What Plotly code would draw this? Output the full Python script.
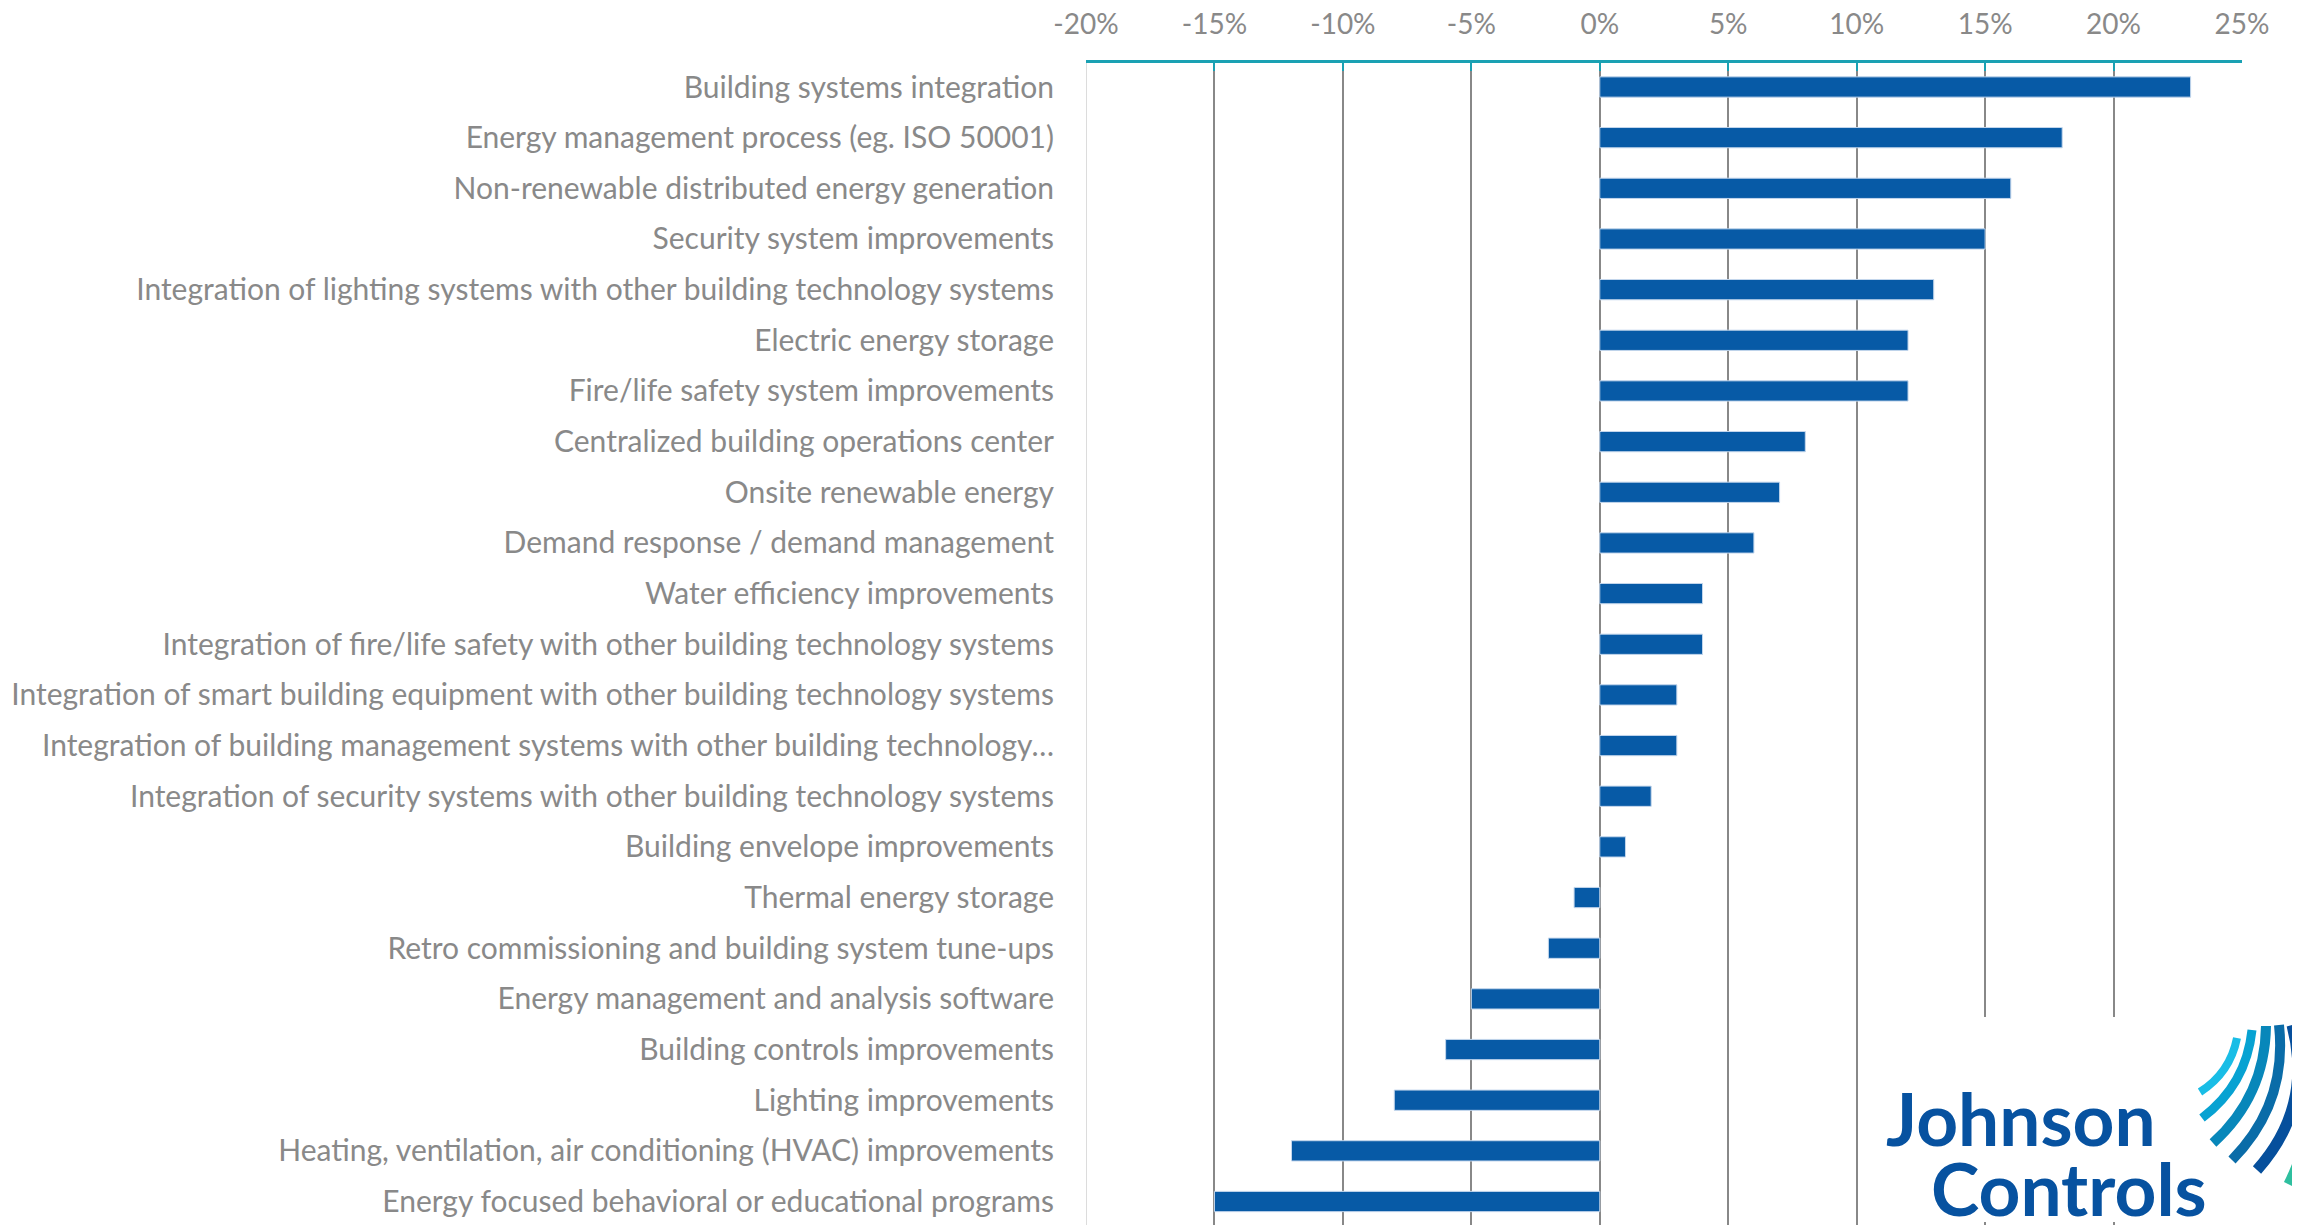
import plotly.graph_objects as go

categories = [
    "Building systems integration",
    "Energy management process (eg. ISO 50001)",
    "Non-renewable distributed energy generation",
    "Security system improvements",
    "Integration of lighting systems with other building technology systems",
    "Electric energy storage",
    "Fire/life safety system improvements",
    "Centralized building operations center",
    "Onsite renewable energy",
    "Demand response / demand management",
    "Water efficiency improvements",
    "Integration of fire/life safety with other building technology systems",
    "Integration of smart building equipment with other building technology systems",
    "Integration of building management systems with other building technology…",
    "Integration of security systems with other building technology systems",
    "Building envelope improvements",
    "Thermal energy storage",
    "Retro commissioning and building system tune-ups",
    "Energy management and analysis software",
    "Building controls improvements",
    "Lighting improvements",
    "Heating, ventilation, air conditioning (HVAC) improvements",
    "Energy focused behavioral or educational programs",
]
values = [0.23, 0.18, 0.16, 0.15, 0.13, 0.12, 0.12, 0.08, 0.07, 0.06, 0.04, 0.04,
          0.03, 0.03, 0.02, 0.01, -0.01, -0.02, -0.05, -0.06, -0.08, -0.12, -0.15]
x_ticks = [-0.20, -0.15, -0.10, -0.05, 0.0, 0.05, 0.10, 0.15, 0.20, 0.25]
x_ticklabels = ["-20%", "-15%", "-10%", "-5%", "0%", "5%", "10%", "15%", "20%", "25%"]

W, H = 2300, 1225
ML, MR, MT, MB = 1078, 66, 55, 0
PW, PH = W - ML - MR, H - MT - MB

# category layout (figure pixels) -> y range
ROW = 50.66
FIRST = 79.0
y_top = -(FIRST - MT) / ROW
y_bot = y_top + PH / ROW

def px(xp):
    return (xp - ML) / PW

def py(yp):
    return 1 - (yp - MT) / PH

label_font = dict(family="Lato, Calibri, sans-serif", size=30, color="#898989")
tick_font = dict(family="Lato, Calibri, sans-serif", size=28, color="#898989")

fig = go.Figure()
fig.add_trace(go.Bar(
    x=values, y=list(range(len(categories))), orientation="h",
    width=0.4,
    marker=dict(color="#075AA6", line=dict(color="#c3d6ec", width=1)),
    hoverinfo="x+text", text=categories, textposition="none",
))

shapes = []
# lighter left border gridline
shapes.append(dict(type="line", xref="x", yref="paper", x0=-0.2, x1=-0.2, y0=0, y1=1,
                   line=dict(color="#dcdcdc", width=2), layer="between"))
# logo white background
shapes.append(dict(type="rect", xref="paper", yref="paper",
                   x0=px(1860), x1=px(2300), y0=py(1214), y1=py(1009),
                   fillcolor="white", line=dict(width=0), layer="above"))

def arc(p0, p1, bulge, color, width):
    (x0, y0), (x1, y1) = p0, p1
    dx, dy = x1 - x0, y1 - y0
    L = (dx * dx + dy * dy) ** 0.5
    nx, ny = -dy / L, dx / L
    if nx < 0:
        nx, ny = -nx, -ny
    cx = (x0 + x1) / 2 + 2 * bulge * nx
    cy = (y0 + y1) / 2 + 2 * bulge * ny
    path = f"M {px(x0)},{py(y0)} Q {px(cx)},{py(cy)} {px(x1)},{py(y1)}"
    return dict(type="path", xref="paper", yref="paper", path=path,
                line=dict(color=color, width=width), layer="above")

shapes += [
    arc((2296, 1026), (2280, 1176), 14, "#2fbf9f", 9),
    arc((2229, 1030), (2192, 1084), 7, "#19bde6", 8),
    arc((2244, 1022), (2194, 1110), 11, "#07a2d2", 9),
    arc((2258, 1018), (2205, 1135), 14, "#0887ba", 10),
    arc((2271, 1017), (2224, 1152), 17, "#0a6ca8", 10),
    arc((2284, 1017), (2249, 1162), 20, "#064f9c", 11),
]

logo_font = dict(family="Lato, sans-serif", size=73, color="#0752a0", weight=700)
annotations = [
    dict(text="Johnson", xref="paper", yref="paper", x=px(1876), y=py(1064),
         xanchor="left", yanchor="top", showarrow=False, font=logo_font),
    dict(text="Controls", xref="paper", yref="paper", x=px(1921), y=py(1134),
         xanchor="left", yanchor="top", showarrow=False, font=logo_font),
]

fig.update_layout(
    width=W, height=H,
    margin=dict(l=ML, r=MR, t=MT, b=MB, autoexpand=False),
    paper_bgcolor="white", plot_bgcolor="white",
    showlegend=False,
    bargap=0.6,
    shapes=shapes,
    annotations=annotations,
    xaxis=dict(
        side="top", range=[-0.2, 0.25], tickvals=x_ticks, ticktext=x_ticklabels,
        showgrid=True, gridcolor="#888888", gridwidth=2, zeroline=False,
        showline=True, linecolor="#1aa1b3", linewidth=3,
        ticks="inside", ticklen=8, tickcolor="#1aa1b3", tickwidth=2,
        tickfont=tick_font, ticklabelstandoff=15, automargin=False,
    ),
    yaxis=dict(
        tickvals=list(range(len(categories))), ticktext=categories,
        range=[y_bot, y_top], showgrid=False, zeroline=False,
        showline=False, ticks="", tickfont=label_font,
        ticklabelstandoff=31, automargin=False,
    ),
)

fig.write_html("out.html")
